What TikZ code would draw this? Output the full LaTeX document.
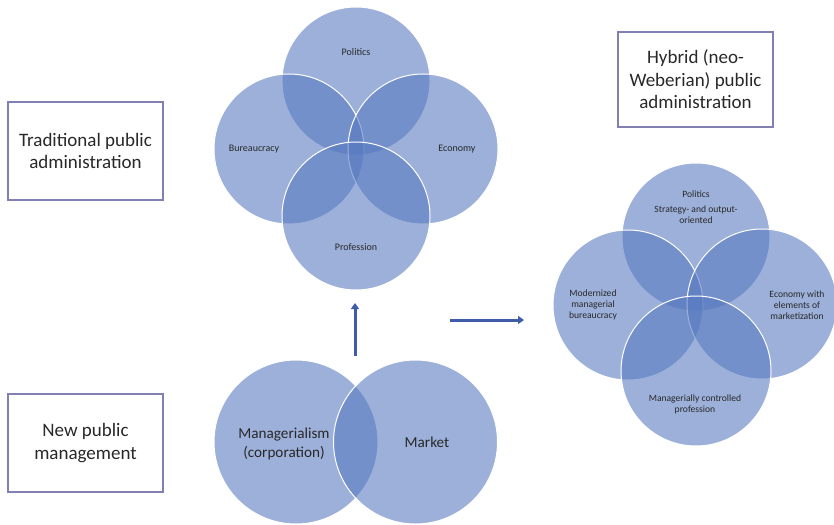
\documentclass[tikz,border=0pt]{standalone}
\usepackage{fontspec}
\setmainfont{Carlito}
\usetikzlibrary{arrows.meta}
\definecolor{vfill}{RGB}{87,121,192}
\definecolor{boxline}{RGB}{128,128,178}
\definecolor{arrowblue}{RGB}{62,92,168}
\definecolor{txt}{RGB}{40,40,40}
\tikzset{
  vcirc/.style={circle, fill=vfill, fill opacity=0.59, draw=white, draw opacity=1, line width=1pt, inner sep=0pt, minimum size=#1},
  vcirc/.default=150pt,
  lab/.style={text=txt, align=center, font=\fontsize{10}{12}\selectfont, inner sep=0pt},
  labsm/.style={text=txt, align=center, font=\fontsize{9.6}{11}\selectfont, inner sep=0pt},
  lablg/.style={text=txt, align=center, font=\fontsize{15.2}{19}\selectfont, inner sep=0pt},
  titlebox/.style={draw=boxline, line width=1.2pt, text=txt, align=center, font=\fontsize{19}{22.5}\selectfont, minimum width=155pt},
  bigarrow/.style={draw=arrowblue, line width=3pt, -{Triangle[length=6pt,width=8pt]}}
}
\begin{document}
\begin{tikzpicture}[x=1pt,y=-1pt]
\useasboundingbox (0,0) rectangle (834,524);
% title boxes
\node[titlebox, minimum height=98pt] (trad) at (85.5,151) {Traditional public\\administration};
\node[titlebox, minimum height=95pt] (hyb) at (695.5,79.5) {Hybrid (neo-\\Weberian) public\\administration};
\node[titlebox, minimum height=98pt] (npm) at (85.5,443) {New public\\management};
% top cluster
\node[vcirc=148pt] (pol) at (356,81) {};
\node[vcirc] (bur) at (289,149) {};
\node[vcirc] (eco) at (423,149) {};
\node[vcirc=148pt] (pro) at (356,216) {};
\node[lab] (polt) at (356,52) {Politics};
\node[lab] (burt) at (254,149) {Bureaucracy};
\node[lab] (ecot) at (457,149) {Economy};
\node[lab] (prot) at (356,247) {Profession};
% right cluster
\node[vcirc=148pt] (hpol) at (696,237) {};
\node[vcirc] (hbur) at (628,305) {};
\node[vcirc] (heco) at (762,304) {};
\node[vcirc] (hpro) at (696,371) {};
\node[labsm] (hpolt) at (696,194) {Politics};
\node[labsm] (hstr) at (696,215) {Strategy- and output-\\oriented};
\node[labsm] (hburt) at (593,305) {Modernized\\managerial\\bureaucracy};
\node[labsm] (hecot) at (797,305) {Economy with\\elements of\\marketization};
\node[labsm] (hprot) at (695,404) {Managerially controlled\\profession};
% bottom venn
\node[vcirc=164pt] (man) at (296,442) {};
\node[vcirc=164pt] (mar) at (415.5,442) {};
\node[lablg] (mant) at (284,444) {Managerialism\\(corporation)};
\node[lablg] (mart) at (427,442) {Market};
% arrows
\coordinate (va) at (355,356);
\coordinate (vb) at (355,303);
\coordinate (ha) at (450,320);
\coordinate (hb) at (524,320);
\draw[bigarrow] (va) -- (vb);
\draw[bigarrow] (ha) -- (hb);
\end{tikzpicture}
\end{document}
